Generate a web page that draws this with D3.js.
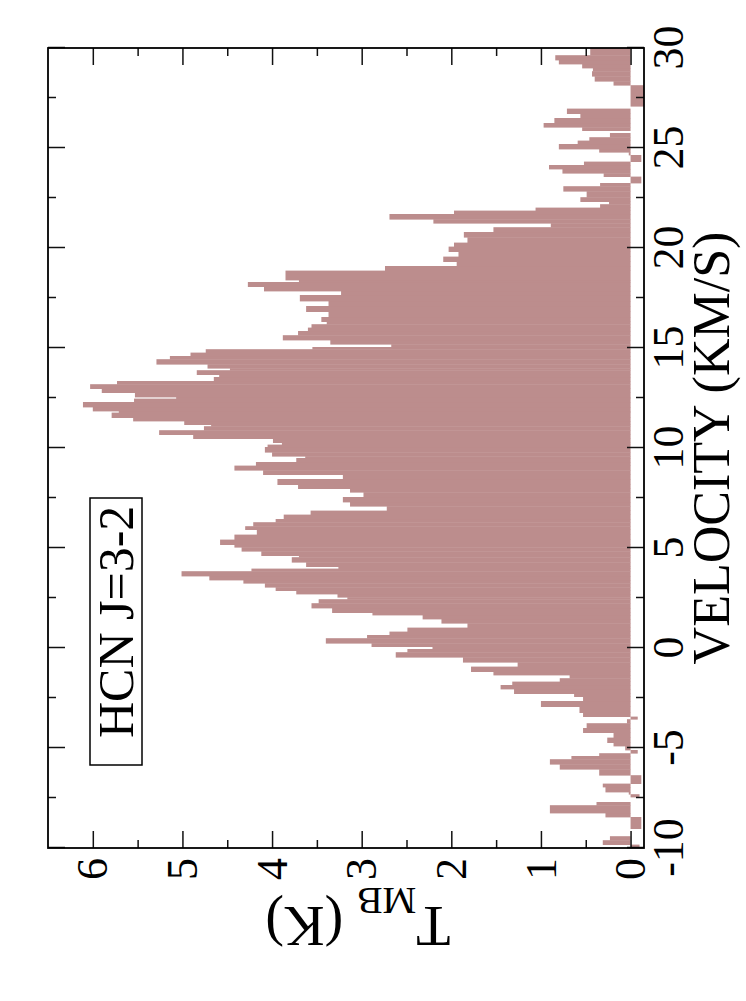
<!DOCTYPE html>
<html><head><meta charset="utf-8">
<script src="https://cdn.jsdelivr.net/npm/d3@7"></script>
<style>html,body{margin:0;padding:0;background:#fff;} svg{display:block;}</style>
</head><body>
<svg id="chart" width="746" height="1001"></svg>
<script>
// Channel lower-edge velocities (km/s) and main-beam temperatures (K)
const velocityStart = [-10.0,-9.85,-9.63,-9.43,-9.05,-8.47,-8.27,-7.88,-7.72,-7.47,-7.33,-7.22,-6.97,-6.8,-6.38,-6.08,-5.83,-5.58,-5.42,-5.28,-5.12,-4.92,-4.75,-4.5,-4.25,-4.02,-3.78,-3.58,-3.45,-3.25,-2.95,-2.67,-2.45,-2.3,-2.07,-1.87,-1.7,-1.53,-1.37,-1.2,-0.95,-0.73,-0.48,-0.23,-0.07,0.05,0.22,0.47,0.63,0.8,1.0,1.22,1.43,1.63,1.75,1.98,2.22,2.42,2.52,2.68,2.85,3.02,3.22,3.38,3.58,3.82,3.95,4.05,4.27,4.52,4.6,4.82,5.02,5.15,5.4,5.65,5.9,6.07,6.27,6.43,6.65,6.85,7.07,7.28,7.53,7.77,7.95,8.15,8.43,8.65,8.87,9.1,9.28,9.48,9.57,9.77,10.03,10.15,10.25,10.45,10.65,10.87,11.07,11.15,11.33,11.5,11.75,11.83,12.03,12.28,12.45,12.53,12.75,12.95,13.17,13.33,13.53,13.65,13.87,13.97,14.17,14.42,14.58,14.75,14.92,15.03,15.17,15.38,15.62,15.83,16.0,16.17,16.3,16.53,16.8,17.08,17.33,17.63,17.83,18.05,18.28,18.38,18.85,19.08,19.3,19.55,19.8,20.05,20.25,20.52,20.78,21.02,21.22,21.42,21.68,21.85,22.0,22.17,22.3,22.52,22.82,23.07,23.23,23.55,23.72,23.93,24.13,24.3,24.63,24.77,24.93,25.18,25.35,25.52,25.73,25.85,26.02,26.23,26.48,26.7,26.95,27.07,28.12,28.32,28.57,28.82,28.98,29.18,29.38,29.62];
const tmb = [-0.1,0.31,0.23,0.0,-0.12,0.28,0.9,0.38,0.0,-0.1,0.02,0.28,0.31,-0.12,0.35,0.79,0.9,0.66,0.35,-0.08,0.06,0.19,0.26,0.19,0.53,0.49,0.04,-0.08,0.53,0.57,1.0,0.53,0.63,1.3,1.45,1.32,0.79,0.68,1.53,1.78,1.26,1.87,2.62,2.49,2.21,2.89,3.4,2.94,2.69,2.49,1.82,2.11,2.32,2.88,3.33,3.56,3.48,3.16,3.27,3.73,3.96,4.08,4.32,4.7,5.01,4.23,3.26,3.62,3.78,3.7,4.12,4.34,4.42,4.58,4.42,4.17,4.3,4.21,3.96,3.87,3.57,2.72,3.13,3.21,2.98,3.13,3.71,3.94,3.21,4.1,4.42,4.18,3.73,3.63,4.0,4.08,4.05,3.89,3.99,4.88,5.26,4.76,4.68,4.98,5.55,5.79,5.71,6.0,6.11,5.54,5.07,5.53,5.9,6.03,5.73,4.65,4.59,4.84,4.47,4.72,5.29,5.14,4.91,4.74,3.55,2.67,3.35,3.88,3.71,3.6,3.56,3.39,3.45,3.37,3.62,3.37,3.69,3.23,4.09,4.27,3.7,3.85,2.74,1.94,2.09,1.92,2.03,1.97,1.82,1.86,1.53,0.89,2.2,2.69,1.97,1.06,0.34,0.24,0.56,0.49,0.75,0.34,-0.12,0.3,0.76,0.91,0.52,-0.12,0.02,0.35,0.8,0.59,0.46,0.23,0.0,0.54,0.97,0.85,0.56,0.71,0.0,-0.15,0.19,0.4,0.43,0.42,0.54,0.8,0.84,0.45];
const velocityDomain = [-10, 30];
const tmbDomain = [-0.15, 6.5];
const tTicksMajor = [0,1,2,3,4,5,6];
const tTicksMinor = [0.5,1.5,2.5,3.5,4.5,5.5];
const vTicksMajor = [-10,-5,0,5,10,15,20,25,30];
const vTicksMinor = [-7.5,-2.5,2.5,7.5,12.5,17.5,22.5,27.5];
const xLabel = "VELOCITY (KM/S)";
const annotation = "HCN J=3-2";

const svg = d3.select("#chart");
const PW = 1001; // landscape width (rotated page height)
const g = svg.append("g").attr("transform", `translate(0,${PW}) rotate(-90)`);
const m = {left:153, right:953, top:48, bottom:644};
const x = d3.scaleLinear().domain(velocityDomain).range([m.left, m.right]);
const y = d3.scaleLinear().domain(tmbDomain).range([m.bottom, m.top]);
const FONT = "Liberation Serif";
const BAR = "#bc8d8d";

const bins = velocityStart.map((v,i)=>({v0:v, v1: i<velocityStart.length-1 ? velocityStart[i+1] : velocityDomain[1], t: tmb[i]}));

g.append("clipPath").attr("id","clip").append("rect")
  .attr("x", m.left).attr("y", m.top).attr("width", m.right-m.left).attr("height", m.bottom-m.top);

g.append("g").attr("clip-path","url(#clip)")
  .selectAll("rect").data(bins).join("rect")
  .attr("x", d=>x(d.v0))
  .attr("width", d=>x(d.v1)-x(d.v0)+0.4)
  .attr("y", d=>y(Math.max(d.t,0)))
  .attr("height", d=>Math.abs(y(d.t)-y(0)))
  .attr("fill", BAR);

function axis(gen, tr, vals, size, pad, fmt){
  const a = gen.tickValues(vals).tickSize(size).tickPadding(pad).tickFormat(fmt);
  const ag = g.append("g").attr("transform", tr).call(a)
    .attr("font-family", FONT).attr("font-size", 44);
  ag.select(".domain").remove();
  ag.selectAll("line").attr("stroke","#111").attr("stroke-width",1.5);
  ag.selectAll("text").attr("fill","#000");
  return ag;
}
const none = ()=>"";
// velocity axis (landscape bottom)
axis(d3.axisBottom(x), `translate(0,${m.bottom})`, vTicksMajor, -17, 8, d=>String(d));
axis(d3.axisBottom(x), `translate(0,${m.bottom})`, vTicksMinor, -8, 8, none);
axis(d3.axisTop(x), `translate(0,${m.top})`, vTicksMajor, -17, 8, none);
axis(d3.axisTop(x), `translate(0,${m.top})`, vTicksMinor, -8, 8, none);
// temperature axis (landscape left)
axis(d3.axisLeft(y), `translate(${m.left},0)`, tTicksMajor, -17, 10, d=>String(d));
axis(d3.axisLeft(y), `translate(${m.left},0)`, tTicksMinor, -8, 10, none);
axis(d3.axisRight(y), `translate(${m.right},0)`, tTicksMajor, -17, 8, none);
axis(d3.axisRight(y), `translate(${m.right},0)`, tTicksMinor, -8, 8, none);

g.append("rect").attr("x", m.left).attr("y", m.top)
  .attr("width", m.right-m.left).attr("height", m.bottom-m.top)
  .attr("fill","none").attr("stroke","#000").attr("stroke-width",1.8);

g.append("text").attr("x", (m.left+m.right)/2).attr("y", 729)
  .attr("text-anchor","middle").attr("font-family",FONT).attr("font-size",52)
  .text(xLabel);

const yl = g.append("text").attr("transform","translate(94,358) rotate(-90)")
  .attr("text-anchor","middle").attr("font-family",FONT).attr("font-size",56);
yl.append("tspan").text("T");
yl.append("tspan").attr("dy",19).attr("font-size",38).text("MB");
yl.append("tspan").attr("dy",-19).text(" (K)");

g.append("rect").attr("x",236).attr("y",90).attr("width",267).attr("height",52)
  .attr("fill","#fff").attr("stroke","#000").attr("stroke-width",1.5);
g.append("text").attr("x",263).attr("y",133).attr("font-family",FONT).attr("font-size",50)
  .text(annotation);
</script>
</body></html>
